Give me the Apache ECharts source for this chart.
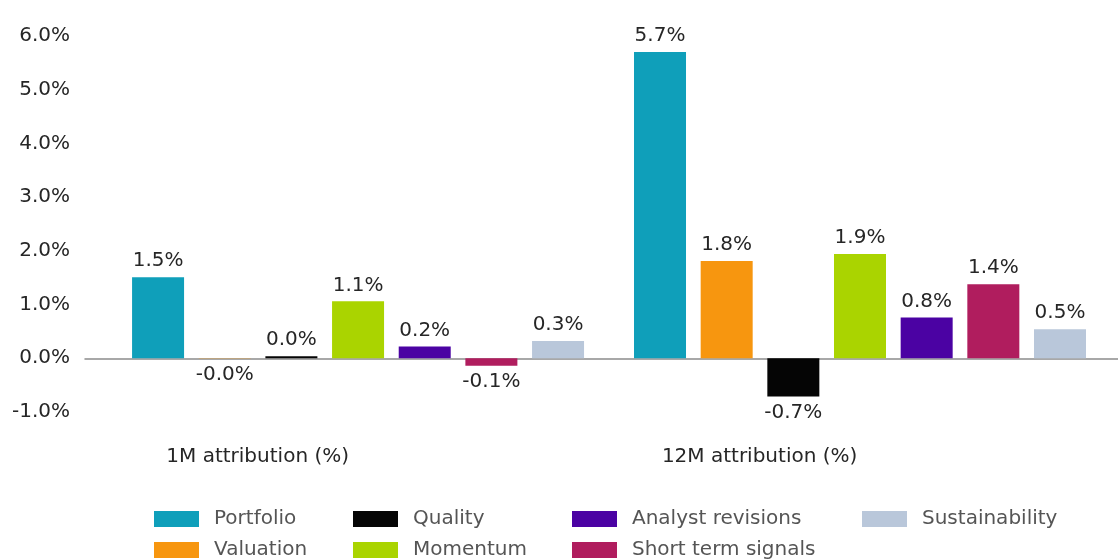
<!DOCTYPE html>
<html>
<head>
<meta charset="utf-8">
<script src="https://cdn.jsdelivr.net/npm/echarts@6/dist/echarts.min.js"></script>
<style>
  html, body { margin: 0; padding: 0; background: #fff; }
  #main { width: 1118px; height: 559px; }
</style>
</head>
<body>
<div id="main"></div>
<script>
// categories sit at x = 0 and x = 1 on a value axis, labels are offset like the source
var categories = ['1M attribution (%)', '12M attribution (%)'];
var categoryTicks = [-0.2, 0.8];

var seriesNames = ['Portfolio', 'Valuation', 'Quality', 'Momentum', 'Analyst revisions', 'Short term signals', 'Sustainability'];
var seriesColors = ['#0f9fba', '#f7960f', '#050505', '#aad400', '#4b02a3', '#b01d5e', '#b9c7da'];

var portfolio = [1.51, 5.70];
var valuation = [-0.004, 1.81];
var quality = [0.04, -0.71];
var momentum = [1.06, 1.94];
var analystRevisions = [0.22, 0.76];
var shortTermSignals = [-0.14, 1.38];
var sustainability = [0.32, 0.54];

var yTicks = [-1, 0, 1, 2, 3, 4, 5, 6];

var allValues = [portfolio, valuation, quality, momentum, analystRevisions, shortTermSignals, sustainability];

var font = 'DejaVu Sans';
var textColor = '#262626';

var series = seriesNames.map(function (name, i) {
  return {
    name: name,
    type: 'bar',
    barWidth: 52,
    barGap: '28.2%',
    itemStyle: { color: seriesColors[i] },
    data: allValues[i].map(function (v, k) {
      return {
        value: [k, v],
        label: { position: v < 0 ? 'bottom' : 'top' }
      };
    }),
    label: {
      show: true,
      distance: 6,
      fontFamily: font,
      fontSize: 20,
      color: textColor,
      formatter: function (p) { return p.value[1].toFixed(1) + '%'; }
    }
  };
});

// one legend per column so the columns line up like the original
var legendCols = [
  { left: 154, data: ['Portfolio', 'Valuation'] },
  { left: 353, data: ['Quality', 'Momentum'] },
  { left: 572, data: ['Analyst revisions', 'Short term signals'] },
  { left: 862, data: ['Sustainability'] }
];
var legends = legendCols.map(function (c) {
  return {
    orient: 'vertical',
    left: c.left,
    top: 509,
    height: 120,
    padding: 0,
    itemWidth: 45,
    itemHeight: 16,
    itemGap: 11,
    icon: 'rect',
    selectedMode: false,
    data: c.data,
    textStyle: { fontFamily: font, fontSize: 20, color: '#555', padding: [0, 0, 0, 10] }
  };
});

var chart = echarts.init(document.getElementById('main'));
chart.setOption({
  animation: false,
  backgroundColor: '#fff',
  grid: { left: 85, right: 0, top: 36, bottom: 147, containLabel: false },
  legend: legends,
  xAxis: {
    type: 'value',
    min: -0.544,
    max: 1.514,
    axisLine: { show: true, onZero: true, lineStyle: { color: '#8c8c8c', width: 1.5 } },
    axisTick: { show: false },
    splitLine: { show: false },
    axisLabel: {
      customValues: categoryTicks,
      margin: 35,
      fontFamily: font,
      fontSize: 20,
      color: textColor,
      formatter: function (v) {
        return v < 0.3 ? categories[0] : categories[1];
      }
    }
  },
  yAxis: {
    type: 'value',
    min: yTicks[0],
    max: yTicks[yTicks.length - 1],
    interval: 1,
    axisLine: { show: false },
    axisTick: { show: false },
    splitLine: { show: false },
    axisLabel: {
      margin: 15,
      fontFamily: font,
      fontSize: 20,
      color: textColor,
      formatter: function (v) { return v.toFixed(1) + '%'; }
    }
  },
  series: series
});
</script>
</body>
</html>
